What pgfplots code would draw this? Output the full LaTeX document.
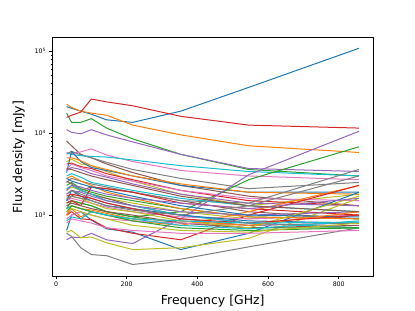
\documentclass[border=0pt]{standalone}
\usepackage{fontspec}
\setmainfont{DejaVu Sans}
\usepackage{pgfplots}
\pgfplotsset{compat=1.18}
\definecolor{C0}{HTML}{1F77B4}
\definecolor{C1}{HTML}{FF7F0E}
\definecolor{C2}{HTML}{2CA02C}
\definecolor{C3}{HTML}{D62728}
\definecolor{C4}{HTML}{9467BD}
\definecolor{C5}{HTML}{8C564B}
\definecolor{C6}{HTML}{E377C2}
\definecolor{C7}{HTML}{7F7F7F}
\definecolor{C8}{HTML}{BCBD22}
\definecolor{C9}{HTML}{17BECF}
\pgfplotscreateplotcyclelist{tab}{
{C0,line width=1bp},{C1,line width=1bp},{C2,line width=1bp},{C3,line width=1bp},{C4,line width=1bp},
{C5,line width=1bp},{C6,line width=1bp},{C7,line width=1bp},{C8,line width=1bp},{C9,line width=1bp}}
\begin{document}
\begin{tikzpicture}
\begin{axis}[name=ax,
  ymode=log, scale only axis, width=321.5bp, height=239.5bp,
  xmin=-11.35, xmax=898.35, ymin=177, ymax=147000,
  xtick={0,200,400,600,800},
  ytick={1000,10000,100000},
  yticklabels={10\textsuperscript{3},10\textsuperscript{4},10\textsuperscript{5}},
  /pgf/number format/assume math mode=true,
  tick pos=left, tick align=outside,
  major tick length=2.5bp, minor tick length=1.4bp,
  every tick/.style={black, line width=0.55bp},
  minor tick style={black, line width=0.45bp},
  axis line style={line width=0.6bp},
  tick label style={font=\fontsize{6.3}{7}\selectfont},
  xticklabel style={yshift=0.5bp},
  label style={font=\fontsize{12.5}{14}\selectfont},
  xlabel={Frequency [GHz]}, ylabel={Flux density [mJy]},
  xlabel style={at={(axis description cs:0.5,0)}, anchor=base, yshift=-28.2bp},
  ylabel style={at={(axis description cs:0,0.5)}, anchor=base, yshift=29.8bp},
  cycle list name=tab,
  line join=round,
]
\addplot coordinates {(30,21000)(44,20000)(70,18500)(100,17000)(143,14500)(217,13500)(353,18500)(545,36000)(857,108000)};
\addplot coordinates {(30,22500)(44,20500)(70,18500)(100,17500)(143,16500)(217,12500)(353,9500)(545,7000)(857,5800)};
\addplot coordinates {(30,17500)(44,13500)(70,13500)(100,15000)(143,11500)(217,8500)(353,5500)(545,3600)(857,3000)};
\addplot coordinates {(30,15500)(44,16500)(70,18000)(100,26000)(143,24000)(217,21500)(353,16000)(545,12500)(857,11500)};
\addplot coordinates {(30,11000)(44,10200)(70,9800)(100,11000)(143,9500)(217,7800)(353,5500)(545,3700)(857,3400)};
\addplot coordinates {(30,8000)(44,7000)(70,5500)(100,5000)(143,4200)(217,3300)(353,2300)(545,1700)(857,1300)};
\addplot coordinates {(30,5800)(44,5600)(70,5900)(100,6400)(143,5400)(217,4500)(353,3500)(545,3000)(857,2700)};
\addplot coordinates {(30,5500)(44,6000)(70,5400)(100,5000)(143,4400)(217,3600)(353,2800)(545,2100)(857,2500)};
\addplot coordinates {(30,4500)(44,4800)(70,4200)(100,4000)(143,3400)(217,2600)(353,1800)(545,1300)(857,1800)};
\addplot coordinates {(30,5700)(44,5500)(70,5300)(100,5200)(143,5100)(217,4700)(353,4000)(545,3400)(857,3000)};
\addplot coordinates {(30,3300)(44,6000)(70,4500)(100,3800)(143,3500)(217,3000)(353,2300)(545,1900)(857,1900)};
\addplot coordinates {(30,5000)(44,5000)(70,4600)(100,4000)(143,3600)(217,3000)(353,2400)(545,1900)(857,1800)};
\addplot coordinates {(30,1400)(44,1500)(70,1400)(100,1300)(143,1100)(217,950)(353,1100)(545,2700)(857,6800)};
\addplot coordinates {(30,4200)(44,4300)(70,3900)(100,3700)(143,3200)(217,2700)(353,2000)(545,1500)(857,1300)};
\addplot coordinates {(30,3500)(44,3800)(70,3600)(100,3200)(143,2900)(217,2400)(353,1800)(545,1400)(857,1300)};
\addplot coordinates {(30,1500)(44,1700)(70,2000)(100,2200)(143,2100)(217,1900)(353,1500)(545,1100)(857,900)};
\addplot coordinates {(30,3600)(44,4200)(70,3800)(100,3500)(143,3000)(217,2600)(353,2000)(545,1600)(857,1500)};
\addplot coordinates {(30,2500)(44,2800)(70,2600)(100,2400)(143,2200)(217,1900)(353,1500)(545,1400)(857,3600)};
\addplot coordinates {(30,2000)(44,2200)(70,2000)(100,1800)(143,1600)(217,1400)(353,1100)(545,900)(857,1000)};
\addplot coordinates {(30,3000)(44,3200)(70,2900)(100,2500)(143,2300)(217,2000)(353,1600)(545,1300)(857,1100)};
\addplot coordinates {(30,650)(44,1000)(70,1100)(100,870)(143,680)(217,620)(353,380)(545,600)(857,1900)};
\addplot coordinates {(30,1000)(44,1200)(70,950)(100,1100)(143,1000)(217,850)(353,750)(545,1100)(857,2300)};
\addplot coordinates {(30,2300)(44,2500)(70,2100)(100,1900)(143,1700)(217,1500)(353,1200)(545,950)(857,900)};
\addplot coordinates {(30,1000)(44,1100)(70,900)(100,880)(143,700)(217,600)(353,500)(545,1000)(857,2300)};
\addplot coordinates {(30,500)(44,540)(70,530)(100,600)(143,500)(217,450)(353,900)(545,3100)(857,10500)};
\addplot coordinates {(30,2600)(44,2400)(70,2000)(100,1800)(143,1600)(217,1300)(353,1000)(545,800)(857,700)};
\addplot coordinates {(30,1500)(44,1600)(70,1500)(100,1400)(143,1250)(217,1100)(353,950)(545,900)(857,1000)};
\addplot coordinates {(30,600)(44,550)(70,400)(100,330)(143,320)(217,250)(353,290)(545,410)(857,700)};
\addplot coordinates {(30,620)(44,650)(70,530)(100,540)(143,460)(217,380)(353,400)(545,520)(857,1600)};
\addplot coordinates {(30,2100)(44,2300)(70,2000)(100,1800)(143,1500)(217,1300)(353,1000)(545,800)(857,700)};
\addplot coordinates {(30,1500)(44,2000)(70,1700)(100,1500)(143,1300)(217,1200)(353,1000)(545,850)(857,800)};
\addplot coordinates {(30,2800)(44,3000)(70,2600)(100,2300)(143,1900)(217,1600)(353,1200)(545,950)(857,900)};
\addplot coordinates {(30,1200)(44,1500)(70,1400)(100,1300)(143,1100)(217,950)(353,800)(545,700)(857,700)};
\addplot coordinates {(30,1400)(44,1500)(70,1300)(100,2200)(143,2100)(217,1900)(353,1400)(545,1200)(857,1000)};
\addplot coordinates {(30,1800)(44,2000)(70,1900)(100,1700)(143,1500)(217,1300)(353,1100)(545,1000)(857,1100)};
\addplot coordinates {(30,1300)(44,1400)(70,1300)(100,1200)(143,1100)(217,1000)(353,800)(545,700)(857,750)};
\addplot coordinates {(30,900)(44,1000)(70,1100)(100,1000)(143,900)(217,850)(353,800)(545,750)(857,800)};
\addplot coordinates {(30,1800)(44,2000)(70,1800)(100,1600)(143,1400)(217,1200)(353,900)(545,750)(857,800)};
\addplot coordinates {(30,1600)(44,1700)(70,1600)(100,1400)(143,1200)(217,1100)(353,850)(545,700)(857,1700)};
\addplot coordinates {(30,1200)(44,1300)(70,1200)(100,1100)(143,1000)(217,900)(353,750)(545,680)(857,850)};
\addplot coordinates {(30,2800)(44,2600)(70,2400)(100,2200)(143,2000)(217,1700)(353,1300)(545,1000)(857,950)};
\addplot coordinates {(30,1000)(44,1300)(70,1200)(100,1150)(143,1050)(217,900)(353,850)(545,750)(857,1100)};
\addplot coordinates {(30,1100)(44,1300)(70,1200)(100,1100)(143,1000)(217,850)(353,700)(545,650)(857,700)};
\addplot coordinates {(30,1700)(44,1800)(70,1700)(100,1600)(143,1400)(217,1200)(353,900)(545,800)(857,1000)};
\addplot coordinates {(30,2000)(44,2300)(70,2200)(100,2000)(143,1800)(217,1600)(353,1400)(545,1200)(857,1600)};
\addplot coordinates {(30,3700)(44,3600)(70,3300)(100,3000)(143,2700)(217,2300)(353,1700)(545,1300)(857,1100)};
\addplot coordinates {(30,800)(44,900)(70,850)(100,800)(143,700)(217,650)(353,600)(545,600)(857,650)};
\addplot coordinates {(30,1600)(44,1700)(70,1600)(100,1500)(143,1300)(217,1150)(353,1000)(545,1300)(857,3000)};
\addplot coordinates {(30,1100)(44,1200)(70,1100)(100,1000)(143,900)(217,750)(353,650)(545,620)(857,800)};
\addplot coordinates {(30,850)(44,950)(70,900)(100,1100)(143,1000)(217,900)(353,850)(545,800)(857,820)};
\end{axis}
\pgfresetboundingbox
\useasboundingbox ([shift={(-52bp,-34.2bp)}]ax.south west) rectangle ([shift={(41.5bp,37.3bp)}]ax.north east);
\end{tikzpicture}
\end{document}
